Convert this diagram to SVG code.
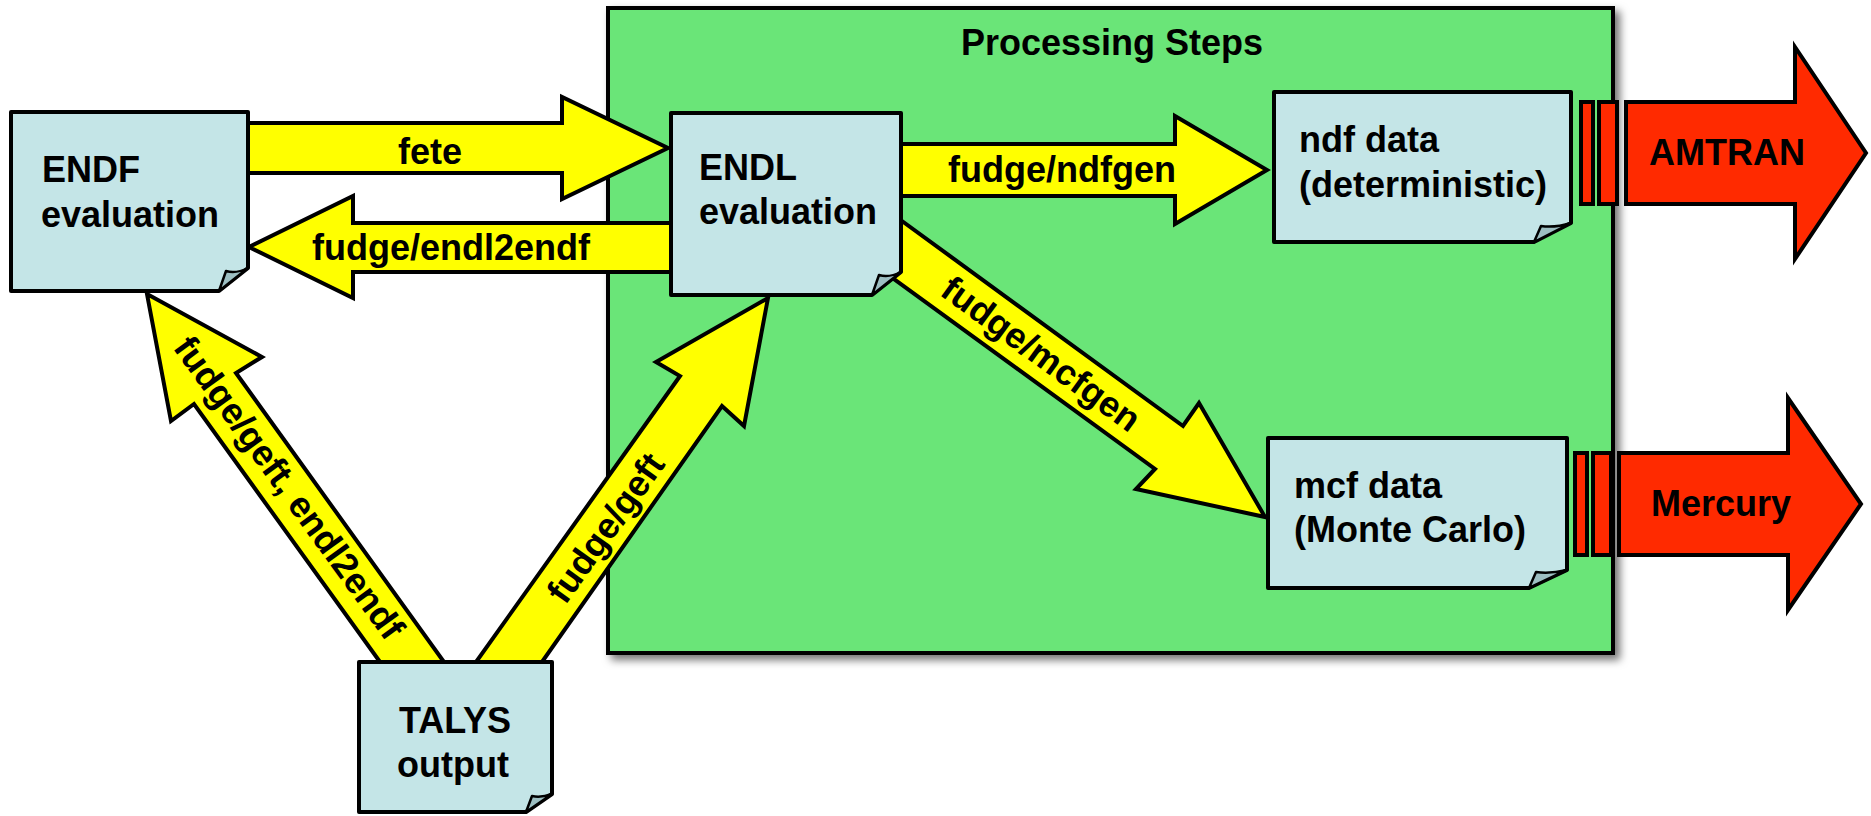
<svg xmlns="http://www.w3.org/2000/svg" width="1871" height="816" viewBox="0 0 1871 816">
<defs>
<filter id="shadow" x="-5%" y="-5%" width="115%" height="115%">
<feDropShadow dx="5" dy="5" stdDeviation="4" flood-color="#000" flood-opacity="0.55"/>
</filter>
<style>
.doc{fill:#C4E5E7;stroke:#000;stroke-width:4;stroke-linejoin:round}
.flap{fill:#9DBFC2;stroke:#000;stroke-width:2.5;stroke-linejoin:round}
.yarrow{fill:#FFFF00;stroke:#000;stroke-width:4;stroke-linejoin:miter}
.rarrow{fill:#FF2A00;stroke:#000;stroke-width:4;stroke-linejoin:miter}
.t{font-family:"Liberation Sans",Arial,Helvetica,sans-serif;font-weight:bold;font-size:36px;fill:#000}
.c{text-anchor:middle}
</style>
</defs>
<rect width="1871" height="816" fill="#fff"/>

<g id="processing-steps">
<rect x="608" y="8" width="1005" height="645" fill="#6AE578" stroke="#000" stroke-width="4" filter="url(#shadow)"/>
<text class="t c" x="1112" y="55">Processing Steps</text>
</g>

<g id="connectors">
<g id="fete">
<polygon class="yarrow" points="248,123 562,123 562,97 668,148 562,199 562,173 248,173"/>
<text class="t c" x="430" y="164">fete</text>
</g>
<g id="endl2endf">
<polygon class="yarrow" points="672,223 353,223 353,196 249,247 353,298 353,272 672,272"/>
<text class="t c" x="451" y="260">fudge/endl2endf</text>
</g>
<g id="ndfgen">
<polygon class="yarrow" points="901,144 1175,144 1175,116 1267,170 1175,224 1175,196 901,196"/>
<text class="t c" x="1062" y="182">fudge/ndfgen</text>
</g>
<g id="mcfgen">
<polygon class="yarrow" points="880,205 1183,426 1199,403 1265,517 1136,489 1155,469 872,263"/>
<text class="t c" transform="translate(1041,354) rotate(36.1)" x="0" y="12">fudge/mcfgen</text>
</g>
<g id="talys-endf">
<polygon class="yarrow" points="147,294 262,357 236,373 444,662 380,662 194,404 171,421"/>
<text class="t c" transform="translate(289,488) rotate(54)" x="0" y="12">fudge/geft, endl2endf</text>
</g>
<g id="talys-endl">
<polygon class="yarrow" points="768,298 744,426 722,406 542,662 476,662 680,376 656,362"/>
<text class="t c" transform="translate(606,528) rotate(-54.5)" x="0" y="12">fudge/geft</text>
</g>
<g id="amtran">
<rect class="rarrow" x="1581" y="102" width="12" height="102"/>
<rect class="rarrow" x="1599" y="102" width="18" height="102"/>
<polygon class="rarrow" points="1626,102 1795,102 1795,47 1866,153 1795,259 1795,204 1626,204"/>
<text class="t c" x="1727" y="165">AMTRAN</text>
</g>
<g id="mercury">
<rect class="rarrow" x="1575" y="453" width="12" height="102"/>
<rect class="rarrow" x="1593" y="453" width="18" height="102"/>
<polygon class="rarrow" points="1619,453 1788,453 1788,398 1861,504 1788,610 1788,555 1619,555"/>
<text class="t c" x="1721" y="516">Mercury</text>
</g>
</g>

<g id="endf">
<path class="doc" d="M11,112 H248 V268 L219,291 H11 Z"/>
<path class="flap" d="M219,291 L226,271 Q236,274 248,268 Z"/>
<text class="t" x="42" y="182">ENDF</text>
<text class="t" x="41" y="227">evaluation</text>
</g>

<g id="endl">
<path class="doc" d="M671,113 H901 V272 L872,295 H671 Z"/>
<path class="flap" d="M872,295 L879,275 Q889,278 901,272 Z"/>
<text class="t" x="699" y="180">ENDL</text>
<text class="t" x="699" y="224">evaluation</text>
</g>

<g id="ndf">
<path class="doc" d="M1274,92 H1571 V223 L1534,242 H1274 Z"/>
<path class="flap" d="M1534,242 L1541,226 Q1555,228 1571,223 Z"/>
<text class="t" x="1299" y="152">ndf data</text>
<text class="t" x="1299" y="197">(deterministic)</text>
</g>

<g id="mcf">
<path class="doc" d="M1268,438 H1567 V570 L1529,588 H1268 Z"/>
<path class="flap" d="M1529,588 L1536,572 Q1550,574 1567,570 Z"/>
<text class="t" x="1294" y="498">mcf data</text>
<text class="t" x="1294" y="542">(Monte Carlo)</text>
</g>

<g id="talys">
<path class="doc" d="M359,662 H552 V794 L526,812 H359 Z"/>
<path class="flap" d="M526,812 L532,796 Q541,798 552,794 Z"/>
<text class="t c" x="455" y="733">TALYS</text>
<text class="t c" x="453" y="777">output</text>
</g>
</svg>
